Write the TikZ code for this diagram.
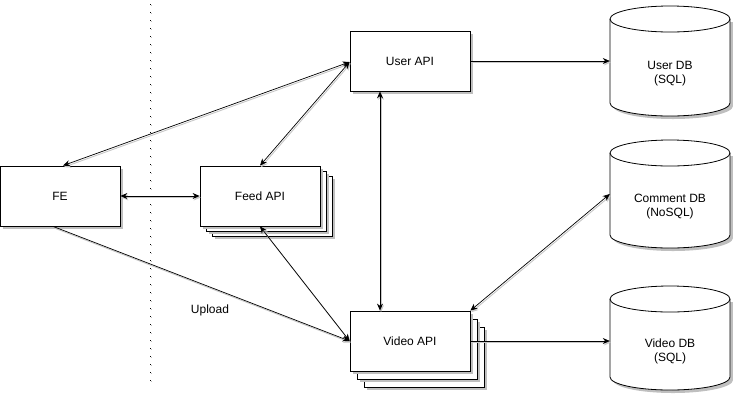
\documentclass[tikz,border=0pt]{standalone}
\usepackage{fontspec}
\setmainfont{Liberation Sans}
\usetikzlibrary{arrows.meta,shadows,calc}
\tikzset{
  box/.style={draw=black, fill=white, line width=0.8pt, minimum width=120pt, minimum height=60pt, inner sep=0pt,
    drop shadow={shadow xshift=3pt, shadow yshift=-3pt, fill=black!25, opacity=1}},
  ghost/.style={draw=none, minimum width=120pt, inner sep=0pt},
  conn/.style={line width=0.7pt, preaction={draw=black!22, line width=0.9pt, transform canvas={xshift=1pt, yshift=-1.5pt}}},
  tip/.tip={Stealth[length=7pt, width=6pt]},
  lbl/.style={font=\fontsize{12}{14}\selectfont, align=center},
}
\newcommand{\mycyl}[5]{% name, cx, ytop, ybot, text
  \pgfmathsetmacro{\ya}{#3+13}\pgfmathsetmacro{\yb}{#4-13}%
  \pgfmathsetmacro{\yc}{(#3+26+#4)/2}\pgfmathsetmacro{\ym}{(#3+#4)/2}%
  \pgfmathsetmacro{\hh}{#4-#3}%
  \fill[black!25] ({#2-60+3},{\ya+3}) -- ({#2-60+3},{\yb+3})
     .. controls ({#2-60+3},{\yb+3+7.2}) and ({#2-33+3},{#4+3}) .. ({#2+3},{#4+3})
     .. controls ({#2+33+3},{#4+3}) and ({#2+60+3},{\yb+3+7.2}) .. ({#2+60+3},{\yb+3})
     -- ({#2+60+3},{\ya+3}) -- cycle;
  \filldraw[fill=white, draw=black, line width=0.8pt] ({#2-60},{\ya}) -- ({#2-60},{\yb})
     .. controls ({#2-60},{\yb+7.2}) and ({#2-33},{#4}) .. ({#2},{#4})
     .. controls ({#2+33},{#4}) and ({#2+60},{\yb+7.2}) .. ({#2+60},{\yb})
     -- ({#2+60},{\ya})
     .. controls ({#2+60},{\ya-7.2}) and ({#2+33},{#3}) .. ({#2},{#3})
     .. controls ({#2-33},{#3}) and ({#2-60},{\ya-7.2}) .. ({#2-60},{\ya});
  \draw[line width=0.8pt] ({#2-60},{\ya})
     .. controls ({#2-60},{\ya+7.2}) and ({#2-33},{#3+26}) .. ({#2},{#3+26})
     .. controls ({#2+33},{#3+26}) and ({#2+60},{\ya+7.2}) .. ({#2+60},{\ya});
  \node[ghost, minimum height=\hh pt] (#1) at (#2,\ym) {};
  \node[lbl] at (#2,\yc) {#5};
}
\begin{document}
\begin{tikzpicture}[x=1pt, y=-1pt, >=tip]
\useasboundingbox (0,0) rectangle (733,400);

% dotted separator
\draw[line width=1.3pt, black!25, dash pattern=on 1.3pt off 6.7pt, line cap=butt] (151.5,5) -- (151.5,385);
\draw[line width=1.3pt, dash pattern=on 1.3pt off 6.7pt, line cap=butt] (150.5,4) -- (150.5,384);

% boxes
\node[box, lbl] (fe) at (60,196) {FE};
\node[box] (feed3) at (272,206) {};
\node[box] (feed2) at (266,201) {};
\node[box, lbl] (feed) at (260,196) {Feed API};
\node[box, lbl] (user) at (410,61) {User API};
\node[box] (video3) at (424,357) {};
\node[box] (video2) at (417,349) {};
\node[box, lbl] (video) at (410,341) {Video API};

% databases
\mycyl{udb}{670}{6}{116}{User DB\\(SQL)}
\mycyl{cdb}{670}{140}{248}{Comment DB\\(NoSQL)}
\mycyl{vdb}{670}{286}{390}{Video DB\\(SQL)}

% connectors
\coordinate (userL) at ($(user.west)+(0,1)$);
\draw[conn, <->] ($(fe.north)+(3,0)$) -- (userL);
\draw[conn, <->] (feed.north) -- (userL);
\draw[conn, <->] (fe.east) -- (feed.west);
\draw[conn, ->] (user.east) -- (user.east -| udb.west);
\draw[conn, <->] (user.south -| 380,0) -- (video.north -| 380,0);
\coordinate (videoL) at (video.west);
\draw[conn, <->] (feed.south) -- (videoL);
\draw[conn, ->] ($(fe.south)+(-7,0)$) -- (videoL);
\draw[conn, <->] (video.north east) -- (cdb.west);
\draw[conn, ->] (video.east) -- (video.east -| vdb.west);

\node[lbl] (upload) at (210,310) {Upload};
\end{tikzpicture}
\end{document}
